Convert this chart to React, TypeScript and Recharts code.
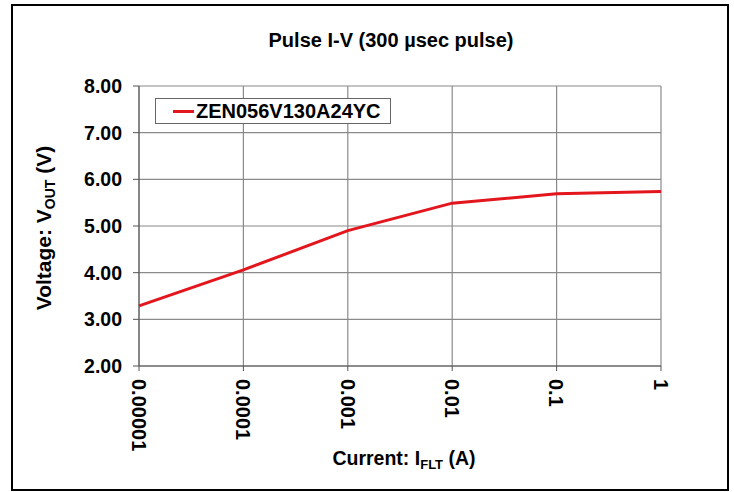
import { CartesianGrid, Line, LineChart, XAxis, YAxis } from "recharts";

const currents = [0.00001, 0.0001, 0.001, 0.01, 0.1, 1];
const voltages = [3.29, 4.06, 4.9, 5.49, 5.69, 5.74];
const currentTicks = [0.00001, 0.0001, 0.001, 0.01, 0.1, 1];
const currentTickLabels = ["0.00001", "0.0001", "0.001", "0.01", "0.1", "1"];
const voltageTicks = [2, 3, 4, 5, 6, 7, 8];
const seriesName = "ZEN056V130A24YC";

const FONT = '"Liberation Sans", Arial, sans-serif';
const GRID_STROKE = "#8a8a8a";
const AXIS_STROKE = "#555555";
const LINE_COLOR = "#e3161d";

const data = currents.map((current, i) => ({ current, voltage: voltages[i] }));

function CurrentTick({ x, y, index }: any) {
  const ty = y + 6;
  return (
    <text
      x={x}
      y={ty}
      dy="0.36em"
      transform={`rotate(90, ${x}, ${ty})`}
      textAnchor="start"
      fontFamily={FONT}
      fontWeight="bold"
      fontSize={20}
      fill="#000"
    >
      {currentTickLabels[index]}
    </text>
  );
}

function VoltageLabel({ viewBox }: any) {
  const cx = 51;
  const cy = viewBox.y + viewBox.height / 2 + 2;
  return (
    <text
      x={cx}
      y={cy}
      transform={`rotate(-90, ${cx}, ${cy})`}
      textAnchor="middle"
      fontFamily={FONT}
      fontWeight="bold"
      fontSize={21}
      fill="#000"
    >
      <tspan>Voltage: V</tspan>
      <tspan fontSize={14} dy={4}>OUT</tspan>
      <tspan dy={-4}> (V)</tspan>
    </text>
  );
}

function CurrentLabel({ viewBox }: any) {
  const cx = viewBox.x + viewBox.width / 2 + 4;
  const cy = viewBox.y + 99;
  return (
    <text x={cx} y={cy} textAnchor="middle" fontFamily={FONT} fontWeight="bold" fontSize={19.5} fill="#000">
      <tspan>Current: I</tspan>
      <tspan fontSize={13} dy={4}>FLT</tspan>
      <tspan dy={-4}> (A)</tspan>
    </text>
  );
}

export default function App() {
  return (
    <div style={{ position: "absolute", left: 0, top: 0, width: 734, height: 492, background: "#fff" }}>
      <div
        style={{
          position: "absolute",
          left: 11,
          top: 4,
          width: 718,
          height: 487,
          border: "2.5px solid #000",
          boxSizing: "border-box",
        }}
      />
      <LineChart width={734} height={492} data={data} margin={{ top: 86, right: 73, left: 0, bottom: 0 }}>
        <text x={391} y={47} textAnchor="middle" fontFamily={FONT} fontWeight="bold" fontSize={20} fill="#000">
          Pulse I-V (300 µsec pulse)
        </text>
        <CartesianGrid stroke={GRID_STROKE} strokeWidth={1.2} />
        <XAxis
          dataKey="current"
          type="number"
          scale="log"
          domain={[0.00001, 1]}
          ticks={currentTicks}
          interval={0}
          height={126}
          tickSize={5}
          stroke={AXIS_STROKE}
          tickLine={{ stroke: AXIS_STROKE }}
          tick={<CurrentTick />}
          label={<CurrentLabel />}
        />
        <YAxis
          type="number"
          domain={[2, 8]}
          ticks={voltageTicks}
          interval={0}
          width={139}
          tickSize={6}
          tickMargin={11}
          stroke={AXIS_STROKE}
          tickFormatter={(v: number) => v.toFixed(2)}
          tick={{ fill: "#000", fontFamily: FONT, fontWeight: "bold", fontSize: 19.5 }}
          label={<VoltageLabel />}
        />
        <Line
          type="linear"
          dataKey="voltage"
          name={seriesName}
          stroke={LINE_COLOR}
          strokeWidth={3}
          dot={false}
          isAnimationActive={false}
        />
      </LineChart>
      <div
        style={{
          position: "absolute",
          left: 155,
          top: 98,
          width: 236,
          height: 26,
          border: "1px solid #666",
          boxSizing: "border-box",
          background: "#fff",
          display: "flex",
          alignItems: "center",
          fontFamily: FONT,
          fontWeight: "bold",
          fontSize: 20,
        }}
      >
        <span style={{ display: "inline-block", width: 21, height: 3, background: LINE_COLOR, marginLeft: 17, marginRight: 2 }} />
        <span>{seriesName}</span>
      </div>
    </div>
  );
}
